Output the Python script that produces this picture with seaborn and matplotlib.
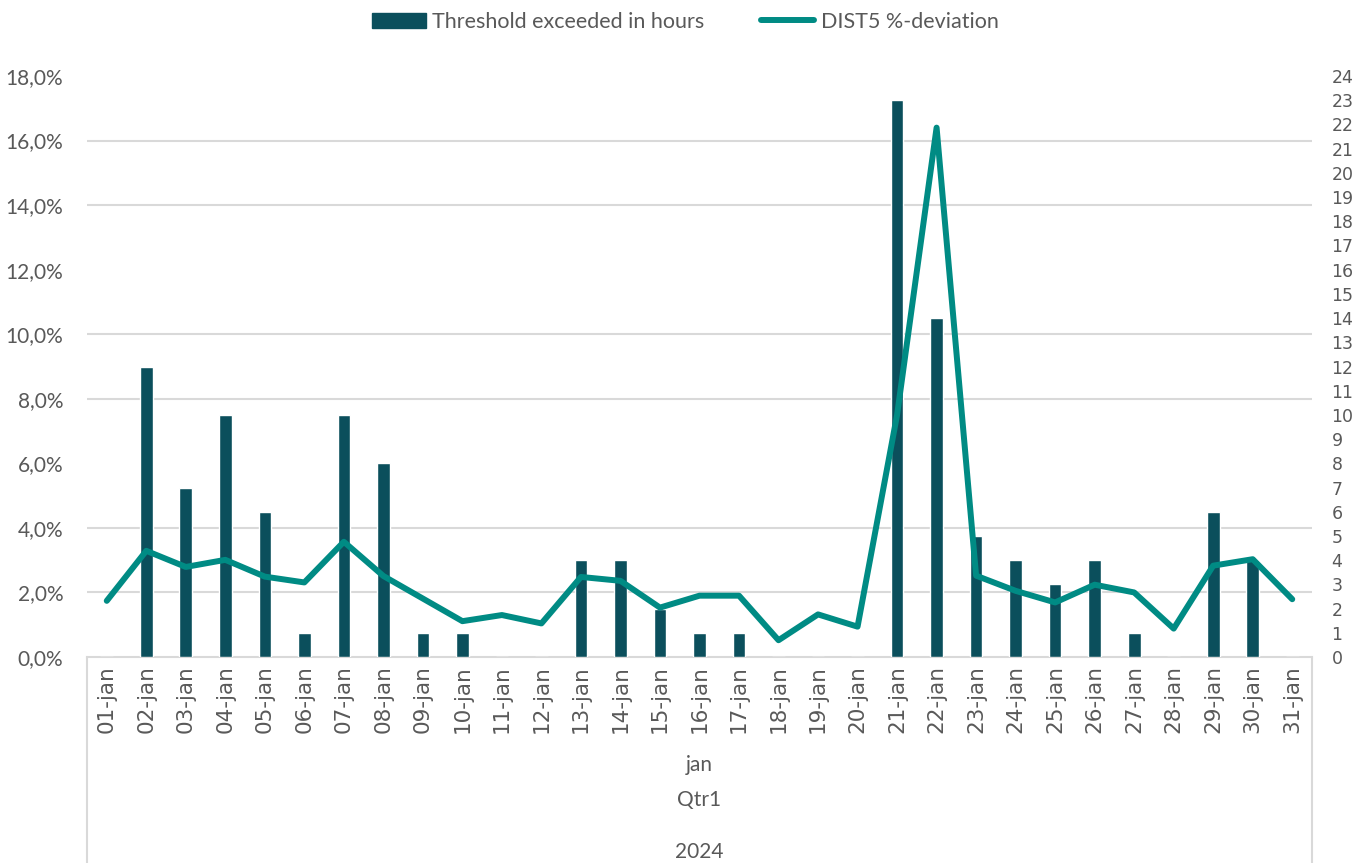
import numpy as np
import pandas as pd
import matplotlib
matplotlib.use("Agg")
import matplotlib.pyplot as plt
import seaborn as sns
from matplotlib.lines import Line2D
from matplotlib.patches import Patch
from matplotlib.ticker import FuncFormatter

# ---------------- data ----------------
days = [f"{d:02d}-jan" for d in range(1, 32)]
hours = [0, 12, 7, 10, 6, 1, 10, 8, 1, 1, 0, 0, 4, 4, 2, 1, 1, 0, 0, 0,
         23, 14, 5, 4, 3, 4, 1, 0, 6, 4, 0]
deviation = [1.74, 3.29, 2.79, 3.01, 2.49, 2.31, 3.57, 2.51, 1.81, 1.11,
             1.30, 1.04, 2.48, 2.36, 1.53, 1.90, 1.90, 0.52, 1.32, 0.94,
             7.5, 16.4, 2.52, 2.05, 1.69, 2.24, 2.0, 0.88, 2.83, 3.03, 1.79]
pct_ticks = [0, 2, 4, 6, 8, 10, 12, 14, 16, 18]
hour_ticks = list(range(0, 25))
levels = ["jan", "Qtr1", "2024"]

df = pd.DataFrame({"day": days, "hours": hours, "deviation": deviation})
df["pos"] = np.arange(len(df))

BAR = "#0b4f5c"
LINE = "#008b84"
GRID = "#d9d9d9"
TXT = "#595959"
WIDE = "DejaVu Sans"

sns.set_style("white")
plt.rcParams["font.family"] = ["Lato", "DejaVu Sans"]

fig = plt.figure(figsize=(13.71, 8.63), dpi=100)
ax = fig.add_axes([87 / 1371, 1 - 657 / 863, (1312 - 87) / 1371, (657 - 76) / 863])

# bars on hours axis (drawn underneath)
sns.barplot(data=df, x="day", y="hours", color=BAR, width=0.32,
            saturation=1, ax=ax, zorder=3)
ax.set_xlim(-0.5, len(days) - 0.5)
ax.set_ylim(0, 24)
ax.set_xlabel("")
ax.set_ylabel("")

# line on percent axis
ax2 = ax.twinx()
sns.lineplot(data=df, x="pos", y="deviation", color=LINE, lw=4.3, ax=ax2,
             solid_capstyle="round", solid_joinstyle="round")
ax2.set_xlim(-0.5, len(days) - 0.5)
ax2.set_ylim(0, 18)
ax2.set_ylabel("")
ax2.set_xlabel("")
for s in ax2.spines.values():
    s.set_visible(False)

# swap sides: hours on the right, percent on the left
ax.yaxis.tick_right()
ax.set_yticks(hour_ticks)
ax.set_yticklabels([str(h) for h in hour_ticks], fontfamily=WIDE,
                   fontsize=12.5, color=TXT)
ax.tick_params(axis="y", length=0, pad=14)
ax.set_yticks([p / 18 * 24 for p in pct_ticks], minor=True)
ax.grid(True, which="minor", axis="y", color=GRID, lw=1.5, zorder=0)
ax.tick_params(axis="y", which="minor", length=0)
ax.set_axisbelow(True)
ax.set_xticks(df["pos"])
ax.set_xticklabels(days, rotation=90, fontfamily=WIDE, fontsize=15.5, color=TXT)
ax.tick_params(axis="x", length=0, pad=6)
for s in ["top", "right", "left"]:
    ax.spines[s].set_visible(False)
ax.spines["bottom"].set_color(GRID)
ax.spines["bottom"].set_linewidth(1.5)

ax2.yaxis.tick_left()
ax2.set_yticks(pct_ticks)
ax2.yaxis.set_major_formatter(FuncFormatter(lambda v, p: f"{v:.1f}%".replace(".", ",")))
ax2.tick_params(axis="y", length=0, labelsize=15, labelcolor=TXT, pad=17)

# multi-level category axis
for x in [0, 1]:
    ax.plot([x, x], [0, -0.36], transform=ax.transAxes, color=GRID,
            lw=1.5, clip_on=False)
for lab, ypx in zip(levels, [765, 800, 852]):
    fig.text(ax.get_position().x0 + ax.get_position().width / 2, 1 - ypx / 863,
             lab, ha="center", va="center", fontsize=15, color=TXT)

handles = [Patch(color=BAR), Line2D([0], [0], color=LINE, lw=4.3, solid_capstyle="round")]
fig.legend(handles, ["Threshold exceeded in hours", "DIST5 %-deviation"],
           loc="center", bbox_to_anchor=(0.5, 1 - 22 / 863), ncol=2, frameon=False,
           fontsize=15.5, labelcolor=TXT, handlelength=2.5, handletextpad=0.3,
           columnspacing=2.6)

fig.savefig("out.png", dpi=100)
